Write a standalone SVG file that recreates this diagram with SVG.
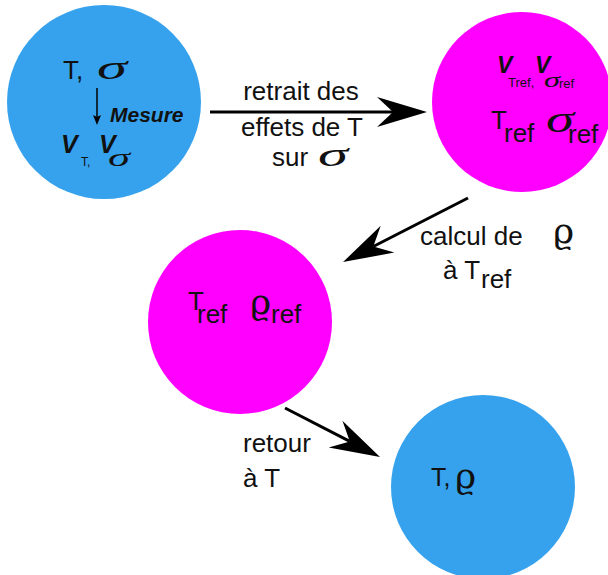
<svg xmlns="http://www.w3.org/2000/svg" width="608" height="575" viewBox="0 0 608 575">
<style>
.blue{fill:#36A2EE}
.mag{fill:#FF00FF}
.s{font-family:"Liberation Sans",Arial,sans-serif;fill:#111}
.g{font-family:"Liberation Serif","DejaVu Serif",serif;font-style:italic;fill:#111}
.r{font-family:"DejaVu Serif","Liberation Serif",serif;fill:#111}
.bi{font-family:"Liberation Sans",Arial,sans-serif;font-weight:bold;font-style:italic;fill:#111}
.lbl{font-family:"Liberation Sans",Arial,sans-serif;font-size:26px;fill:#111}
.conn{stroke:#000;stroke-width:3;fill:none}
</style>
<defs>
<marker id="big" markerUnits="userSpaceOnUse" markerWidth="60" markerHeight="40" viewBox="0 -20 60 40" refX="16" refY="0" orient="auto">
<path d="M50,0 L0,-15 L16,0 L0,15 Z" fill="#000"/>
</marker>
<marker id="small" markerUnits="userSpaceOnUse" markerWidth="12" markerHeight="10" viewBox="0 -5 12 10" refX="2" refY="0" orient="auto">
<path d="M10,0 L0,-4 L2,0 L0,4 Z" fill="#000"/>
</marker>
</defs>

<g id="node-mesure">
<circle class="blue" cx="104" cy="102" r="97"/>
<text class="s" x="63" y="79" font-size="26">T,</text>
<text class="g" x="97" y="79" font-size="34" textLength="30" lengthAdjust="spacingAndGlyphs">σ</text>
<line x1="97" y1="88" x2="97" y2="117" stroke="#000" stroke-width="1.5" marker-end="url(#small)"/>
<text class="bi" x="110" y="122" font-size="21">Mesure</text>
<text class="bi" x="61" y="153" font-size="25">V</text>
<text class="s" x="81" y="166" font-size="12">T,</text>
<text class="bi" x="99" y="153" font-size="25">V</text>
<text class="g" x="108" y="166" font-size="25" textLength="22" lengthAdjust="spacingAndGlyphs">σ</text>
</g>

<g id="node-ref">
<circle class="mag" cx="522" cy="102" r="90"/>
<text class="bi" x="497" y="73" font-size="23">V</text>
<text class="s" x="508" y="87" font-size="13">Tref,</text>
<text class="bi" x="535" y="73" font-size="23">V</text>
<text class="g" x="544" y="87" font-size="20" textLength="16" lengthAdjust="spacingAndGlyphs">σ</text>
<text class="s" x="559" y="88" font-size="13">ref</text>
<text class="s" x="491" y="129" font-size="26">T</text>
<text class="s" x="504" y="142" font-size="26">ref</text>
<text class="g" x="546" y="132" font-size="38" textLength="28" lengthAdjust="spacingAndGlyphs">σ</text>
<text class="s" x="568" y="143" font-size="26">ref</text>
</g>

<g id="node-rho-ref">
<circle class="mag" cx="240" cy="322" r="92"/>
<text class="s" x="188" y="310" font-size="26">T</text>
<text class="s" x="197" y="323" font-size="26">ref</text>
<text class="r" x="250" y="314" font-size="36">ϱ</text>
<text class="s" x="271" y="323" font-size="26">ref</text>
</g>

<g id="node-rho">
<circle class="blue" cx="483" cy="487" r="92"/>
<text class="s" x="431" y="486" font-size="25">T,</text>
<text class="r" x="455" y="488" font-size="36">ϱ</text>
</g>

<g id="connectors">
<line class="conn" x1="210" y1="112" x2="393" y2="112" marker-end="url(#big)"/>
<line class="conn" x1="468" y1="198" x2="373.3" y2="246.5" marker-end="url(#big)"/>
<line class="conn" x1="285" y1="408" x2="349.8" y2="441.4" marker-end="url(#big)"/>
<text class="lbl" x="301" y="100" text-anchor="middle">retrait des</text>
<text class="lbl" x="302" y="136" text-anchor="middle">effets de T</text>
<text class="lbl" x="272" y="166">sur</text>
<text class="g" x="318" y="166" font-size="34" textLength="30" lengthAdjust="spacingAndGlyphs">σ</text>
<text class="lbl" x="420" y="245">calcul de</text>
<text class="r" x="553" y="243" font-size="36">ϱ</text>
<text class="lbl" x="443" y="279">à T</text>
<text class="lbl" x="481" y="288">ref</text>
<text class="lbl" x="243" y="452">retour</text>
<text class="lbl" x="243" y="487">à T</text>
</g>
</svg>
